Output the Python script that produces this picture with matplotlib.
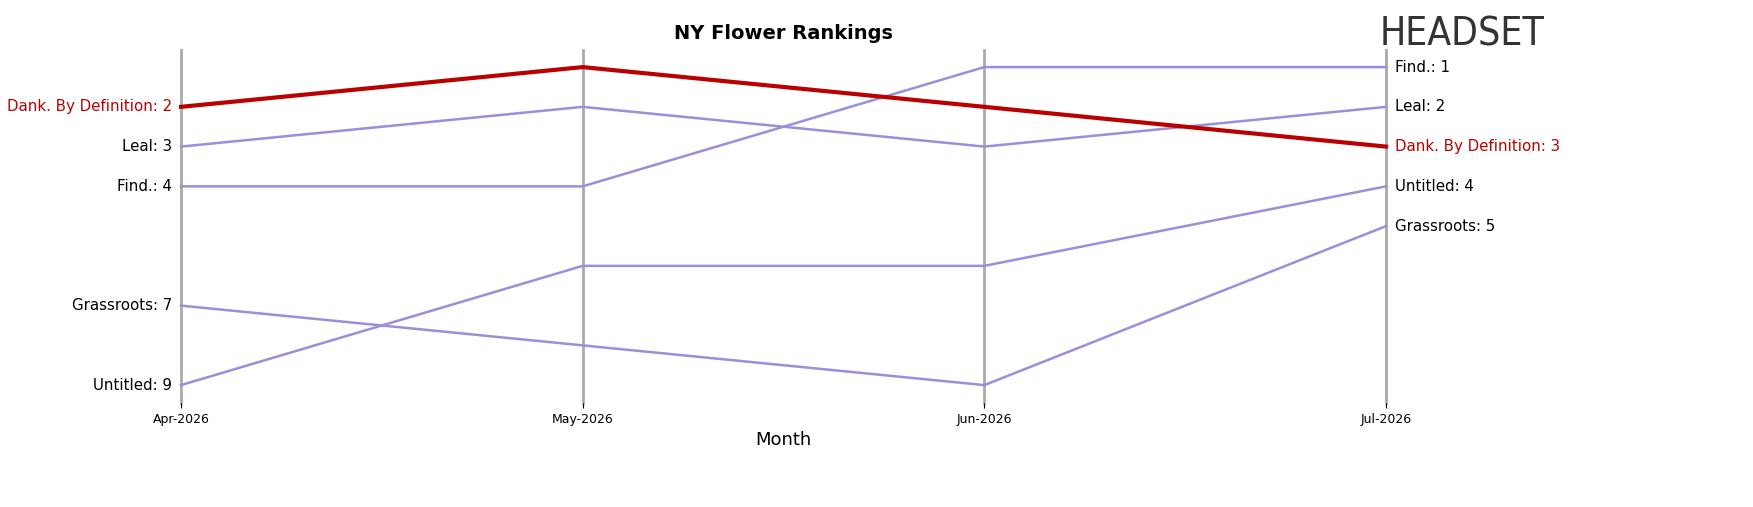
import matplotlib
matplotlib.use("Agg")
import matplotlib.pyplot as plt

months = ["Apr-2026", "May-2026", "Jun-2026", "Jul-2026"]
brands = ["Dank. By Definition", "Leal", "Find.", "Grassroots", "Untitled"]
ranks = {
    "Dank. By Definition": [2, 1, 2, 3],
    "Leal": [3, 2, 3, 2],
    "Find.": [4, 4, 1, 1],
    "Grassroots": [7, 8, 9, 5],
    "Untitled": [9, 6, 6, 4],
}
highlight = "Dank. By Definition"

fig = plt.figure(figsize=(17.53, 5.07), dpi=100)
ax = fig.add_axes([181 / 1753, 1 - 403 / 507, (1386 - 181) / 1753, 353 / 507])
x = list(range(len(months)))

for xi in x:
    ax.axvline(xi, color="#aaaaaa", lw=2, zorder=0, clip_on=False)

for b in brands:
    r = ranks[b]
    hl = b == highlight
    col = "#bb0000" if hl else "#9b8fdb"
    ax.plot(x, r, color=col, lw=3 if hl else 1.8, zorder=3 if hl else 2, clip_on=False)
    tc = "#bb0000" if hl else "black"
    ax.text(-0.022, r[0], f"{b}: {r[0]}", ha="right", va="center", fontsize=10.8, color=tc)
    ax.text(3.022, r[-1], f"{b}: {r[-1]}", ha="left", va="center", fontsize=10.8, color=tc)

ax.set_xlim(0, 3)
ax.set_ylim(9.45, 0.57)
ax.set_xticks(x)
ax.set_xticklabels(months, fontsize=9)
ax.set_yticks([])
for s in ax.spines.values():
    s.set_visible(False)
ax.set_xlabel("Month", fontsize=13)
ax.set_title("NY Flower Rankings", fontsize=14, fontweight="bold", pad=8)

fig.text(1380 / 1753, 1 - 35 / 507, "HEADSET", fontsize=28, color="#333333",
         ha="left", va="center", fontstretch="condensed")
fig.savefig("out.png", dpi=100)
